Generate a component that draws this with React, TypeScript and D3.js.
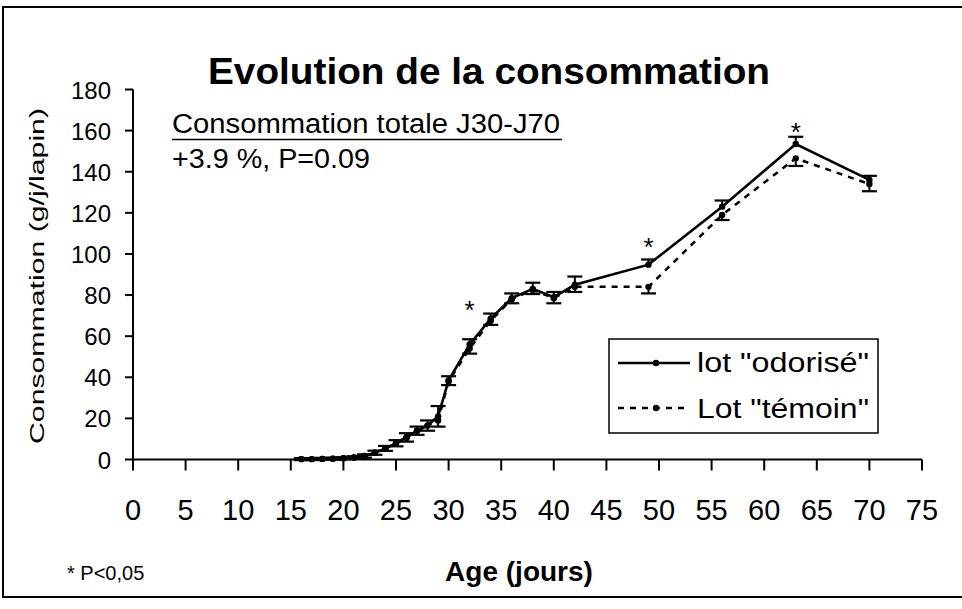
import React from "react";
import * as d3 from "d3";

// age (days)
const days = [16, 17, 18, 19, 20, 21, 22, 23, 24, 25, 26, 27, 28, 29, 30, 32, 34, 36, 38, 40, 42, 49, 56, 63, 70];
// lot "odorisé" mean and SEM
const odorise = [0.2, 0.2, 0.3, 0.4, 0.6, 1, 1.7, 3.3, 5.4, 7.9, 11, 14, 16.5, 21, 38.5, 56, 68.5, 78.5, 83, 79, 85, 94.8, 123, 153.5, 136];
const odoriseErr = [0.5, 0.5, 0.5, 0.5, 0.5, 0.6, 0.8, 1, 1.2, 1.5, 1.8, 2, 2.5, 5, 2, 2.5, 2.5, 2.3, 3, 2.5, 4, 2.5, 3, 3.5, 2];
// lot "témoin" mean and SEM
const temoin = [0.2, 0.2, 0.3, 0.4, 0.6, 1, 1.7, 3.3, 5.4, 7.9, 10.5, 14, 16.5, 19, 38, 54, 67.5, 78, 82.5, 78.5, 84, 84, 119, 146.5, 134];
const temoinErr = [0.5, 0.5, 0.5, 0.5, 0.5, 0.6, 0.8, 1, 1.2, 1.5, 1.8, 2, 2.5, 3, 1.8, 2.5, 2, 2, 2, 2.5, 2.5, 3.2, 2.5, 3.7, 3.5];

// significant differences (P<0,05): day and height of the star
const starDays = [32, 49, 63];
const starValues = [75, 106, 162];

const xTicks = d3.range(0, 80, 5);
const yTicks = d3.range(0, 200, 20);

const FONT = "'Liberation Sans', Arial, sans-serif";

const App = () => {
  const width = 962;
  const height = 609;

  const x = d3.scaleLinear().domain([0, 75]).range([133, 922]);
  const y = d3.scaleLinear().domain([0, 180]).range([459.5, 89.5]);

  const line = d3
    .line<number>()
    .x((d, i) => x(days[i]))
    .y((d) => y(d));

  const cap = 7.5;

  return (
    <svg
      width={width}
      height={height}
      style={{ position: "absolute", left: 0, top: 0, background: "#fff" }}
      fontFamily={FONT}
    >
      {/* outer frame */}
      <rect x={3} y={7} width={980} height={590} fill="none" stroke="#000" strokeWidth={2} />

      {/* title */}
      <text x={208} y={84} fontSize={37} fontWeight="bold" textLength={562} lengthAdjust="spacingAndGlyphs">
        Evolution de la consommation
      </text>

      {/* y axis */}
      <line x1={x(0)} x2={x(0)} y1={y(180)} y2={y(0)} stroke="#000" strokeWidth={2} />
      {yTicks.map((t) => (
        <g key={t}>
          <line x1={x(0) - 8} x2={x(0)} y1={y(t)} y2={y(t)} stroke="#000" strokeWidth={2} />
          <text x={111} y={y(t) + 9} textAnchor="end" fontSize={24}>
            {t}
          </text>
        </g>
      ))}
      <text
        transform={`translate(44,${276}) rotate(-90)`}
        textAnchor="middle"
        fontSize={20}
        textLength={336}
        lengthAdjust="spacingAndGlyphs"
      >
        Consommation (g/j/lapin)
      </text>

      {/* x axis */}
      <line x1={x(0) - 1} x2={x(75)} y1={y(0)} y2={y(0)} stroke="#000" strokeWidth={2} />
      {xTicks.map((t) => (
        <g key={t}>
          <line x1={x(t)} x2={x(t)} y1={y(0)} y2={y(0) + 11} stroke="#000" strokeWidth={2} />
          <text x={x(t)} y={520} textAnchor="middle" fontSize={29}>
            {t}
          </text>
        </g>
      ))}
      <text x={519} y={581} textAnchor="middle" fontSize={28} fontWeight="bold">
        Age (jours)
      </text>
      <text x={67} y={580} fontSize={20}>
        * P&lt;0,05
      </text>

      {/* annotation */}
      <text x={172} y={133} fontSize={27} textLength={388} lengthAdjust="spacingAndGlyphs">
        Consommation totale J30-J70
      </text>
      <line x1={172} x2={562} y1={139.5} y2={139.5} stroke="#000" strokeWidth={1.6} />
      <text x={172} y={168} fontSize={27} textLength={198} lengthAdjust="spacingAndGlyphs">
        +3.9 %, P=0.09
      </text>

      {/* témoin: dashed line, lower error bars */}
      <path d={line(temoin) ?? ""} fill="none" stroke="#000" strokeWidth={2.5} strokeDasharray="6,6" />
      {temoin.map((v, i) => (
        <g key={`t${i}`}>
          <line x1={x(days[i])} x2={x(days[i])} y1={y(v)} y2={y(v - temoinErr[i])} stroke="#000" strokeWidth={2} />
          <line
            x1={x(days[i]) - cap}
            x2={x(days[i]) + cap}
            y1={y(v - temoinErr[i])}
            y2={y(v - temoinErr[i])}
            stroke="#000"
            strokeWidth={2.2}
          />
          <circle cx={x(days[i])} cy={y(v)} r={3.2} fill="#000" />
        </g>
      ))}

      {/* odorisé: solid line, upper error bars */}
      <path d={line(odorise) ?? ""} fill="none" stroke="#000" strokeWidth={2.6} />
      {odorise.map((v, i) => (
        <g key={`o${i}`}>
          <line x1={x(days[i])} x2={x(days[i])} y1={y(v)} y2={y(v + odoriseErr[i])} stroke="#000" strokeWidth={2} />
          <line
            x1={x(days[i]) - cap}
            x2={x(days[i]) + cap}
            y1={y(v + odoriseErr[i])}
            y2={y(v + odoriseErr[i])}
            stroke="#000"
            strokeWidth={2.2}
          />
          <circle cx={x(days[i])} cy={y(v)} r={3.2} fill="#000" />
        </g>
      ))}

      {/* stars */}
      {starDays.map((d, i) => (
        <text key={d} x={x(d)} y={y(starValues[i]) + 14} textAnchor="middle" fontSize={26}>
          *
        </text>
      ))}

      {/* legend */}
      <rect x={609} y={339} width={269} height={94} fill="#fff" stroke="#000" strokeWidth={1.5} />
      <line x1={618} x2={690} y1={363} y2={363} stroke="#000" strokeWidth={2.5} />
      <circle cx={656} cy={363} r={3.2} fill="#000" />
      <text x={697} y={372} fontSize={27} textLength={172} lengthAdjust="spacingAndGlyphs">
        lot "odorisé"
      </text>
      <line x1={618} x2={690} y1={408} y2={408} stroke="#000" strokeWidth={2.5} strokeDasharray="6,6" />
      <circle cx={656} cy={408} r={3.2} fill="#000" />
      <text x={697} y={418} fontSize={27} textLength={172} lengthAdjust="spacingAndGlyphs">
        Lot "témoin"
      </text>
    </svg>
  );
};

export default App;
